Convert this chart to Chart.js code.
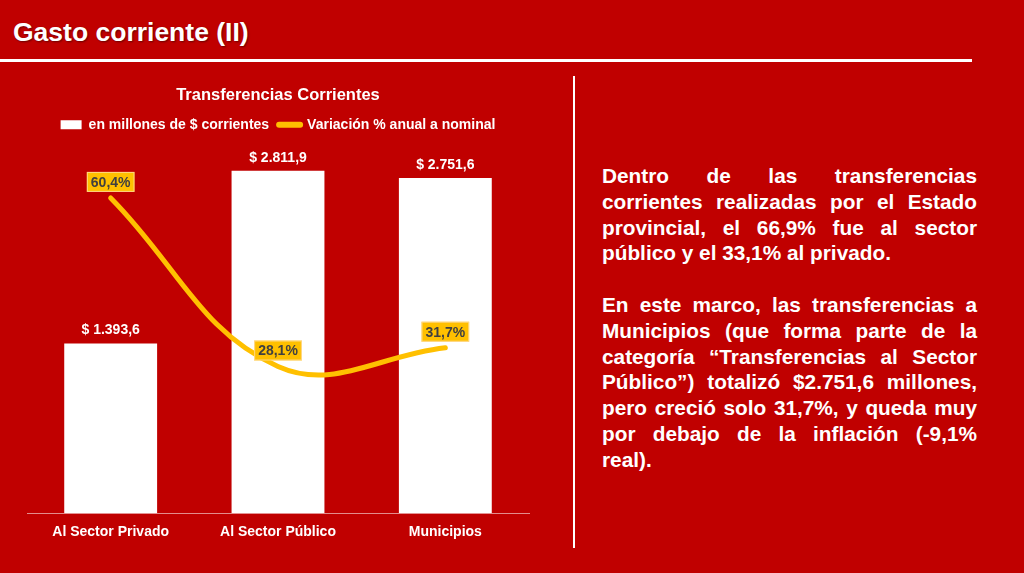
<!DOCTYPE html>
<html lang="es">
<head>
  <meta charset="UTF-8">
  <title>Gasto corriente (II)</title>
  <script src="https://cdn.jsdelivr.net/npm/chart.js"></script>
  <style>
    * {
      box-sizing: border-box;
      margin: 0;
      padding: 0;
    }

    body {
      width: 1024px;
      height: 573px;
      background: #C00000;
      font-family: 'Liberation Sans', Arial, sans-serif;
      position: relative;
      overflow: hidden;
    }

    h1 {
      position: absolute;
      left: 13px;
      top: 16px;
      font-size: 26.5px;
      font-weight: bold;
      color: #fff;
      line-height: 32px;
      text-shadow: 1px 1px 2px rgba(0, 0, 0, 0.45);
    }

    .rule {
      position: absolute;
      left: 0;
      top: 59px;
      width: 972px;
      height: 3px;
      background: #fff;
    }

    .divider {
      position: absolute;
      left: 573px;
      top: 76px;
      width: 2px;
      height: 472px;
      background: #fff;
    }

    .chart-box {
      position: absolute;
      left: 0;
      top: 76px;
      width: 545px;
      height: 476px;
    }

    .text {
      position: absolute;
      left: 602px;
      top: 163px;
      width: 375px;
      color: #fff;
      font-weight: bold;
      font-size: 20.8px;
      line-height: 25.8px;
    }

    .text div {
      text-align: justify;
      text-align-last: justify;
      white-space: nowrap;
    }

    .text div.last {
      text-align-last: left;
    }

    .text .gap {
      height: 25.8px;
    }
  </style>
</head>
<body>
  <h1>Gasto corriente (II)</h1>
  <div class="rule"></div>
  <div class="divider"></div>

  <div class="chart-box">
    <canvas id="chart"></canvas>
  </div>

  <div class="text">
    <div>Dentro de las transferencias</div>
    <div>corrientes realizadas por el Estado</div>
    <div>provincial, el 66,9% fue al sector</div>
    <div class="last">público y el 33,1% al privado.</div>
    <div class="gap"></div>
    <div>En este marco, las transferencias a</div>
    <div>Municipios (que forma parte de la</div>
    <div>categoría “Transferencias al Sector</div>
    <div>Público”) totalizó $2.751,6 millones,</div>
    <div>pero creció solo 31,7%, y queda muy</div>
    <div>por debajo de la inflación (-9,1%</div>
    <div class="last">real).</div>
  </div>

  <script>
    const categories = ['Al Sector Privado', 'Al Sector Público', 'Municipios'];
    const montos = [1393.6, 2811.9, 2751.6];      // en millones de $ corrientes
    const variacion = [60.4, 28.1, 31.7];         // variación % anual nominal

    const FONT = "'Liberation Sans', Arial, sans-serif";
    const YELLOW = '#FFC000';

    // 1234.5 -> "1.234,5"
    function fmt(v) {
      const parts = v.toFixed(1).split('.');
      parts[0] = parts[0].replace(/\B(?=(\d{3})+(?!\d))/g, '.');
      return parts.join(',');
    }

    // leave a little room between the legend and the bars
    const legendGap = {
      id: 'legendGap',
      beforeLayout(chart) {
        const lg = chart.legend;
        if (lg && !lg._gapFit) {
          const fit = lg.fit;
          lg.fit = function () { fit.call(this); this.height += 6; };
          lg._gapFit = true;
        }
      }
    };

    const valueLabels = {
      id: 'valueLabels',
      afterDatasetsDraw(chart) {
        const ctx = chart.ctx;
        ctx.save();
        ctx.font = 'bold 14px ' + FONT;
        ctx.textAlign = 'center';
        ctx.textBaseline = 'middle';

        chart.getDatasetMeta(0).data.forEach((bar, i) => {
          ctx.fillStyle = '#fff';
          ctx.fillText('$ ' + fmt(montos[i]), bar.x, bar.y - 13);
        });

        chart.getDatasetMeta(1).data.forEach((pt, i) => {
          const txt = variacion[i].toFixed(1).replace('.', ',') + '%';
          const w = ctx.measureText(txt).width + 8;
          const h = 20;
          const top = pt.y - 6 - h;
          ctx.fillStyle = YELLOW;
          ctx.fillRect(pt.x - w / 2, top, w, h);
          ctx.strokeStyle = 'rgba(255, 225, 190, 0.7)';
          ctx.lineWidth = 1;
          ctx.strokeRect(pt.x - w / 2 + 0.5, top + 0.5, w - 1, h - 1);
          ctx.fillStyle = '#404040';
          ctx.fillText(txt, pt.x, top + h / 2 + 1);
        });
        ctx.restore();
      }
    };

    const ctx = document.getElementById('chart').getContext('2d');
    new Chart(ctx, {
      data: {
        labels: categories,
        datasets: [
          {
            type: 'bar',
            label: 'en millones de $ corrientes',
            data: montos,
            backgroundColor: '#fff',
            yAxisID: 'y',
            order: 2,
            categoryPercentage: 1,
            barPercentage: 0.555
          },
          {
            type: 'line',
            label: 'Variación % anual a nominal',
            data: variacion,
            borderColor: YELLOW,
            backgroundColor: YELLOW,
            borderWidth: 5,
            borderCapStyle: 'round',
            tension: 0.4,
            pointRadius: 0,
            yAxisID: 'y1',
            order: 1
          }
        ]
      },
      options: {
        responsive: true,
        maintainAspectRatio: false,
        animation: false,
        layout: {
          padding: { left: 27, right: 16, top: 0, bottom: 0 }
        },
        plugins: {
          title: {
            display: true,
            text: 'Transferencias Corrientes',
            color: '#fff',
            font: { family: FONT, size: 16.5, weight: 'bold' },
            padding: { top: 10, bottom: 2 }
          },
          legend: {
            display: true,
            labels: {
              color: '#fff',
              font: { family: FONT, size: 14, weight: 'bold' },
              usePointStyle: true,
              pointStyleWidth: 21,
              boxHeight: 9,
              padding: 10,
              generateLabels(chart) {
                return chart.data.datasets.map((ds, i) => ({
                  text: ds.label,
                  datasetIndex: i,
                  fontColor: '#fff',
                  fillStyle: i === 0 ? '#fff' : YELLOW,
                  strokeStyle: i === 0 ? '#fff' : YELLOW,
                  lineWidth: i === 0 ? 0 : 6,
                  lineCap: 'round',
                  pointStyle: i === 0 ? 'rect' : 'line',
                  hidden: false
                }));
              }
            }
          },
          tooltip: { enabled: false }
        },
        scales: {
          x: {
            grid: { display: false, drawTicks: false },
            border: { display: true, color: 'rgba(255, 255, 255, 0.55)', width: 1 },
            ticks: {
              color: '#fff',
              font: { family: FONT, size: 14, weight: 'bold' },
              padding: 11
            }
          },
          y: {
            display: false,
            min: 0,
            max: 3000
          },
          y1: {
            display: false,
            position: 'right',
            min: 0,
            max: 70
          }
        }
      },
      plugins: [legendGap, valueLabels]
    });
  </script>
</body>
</html>
